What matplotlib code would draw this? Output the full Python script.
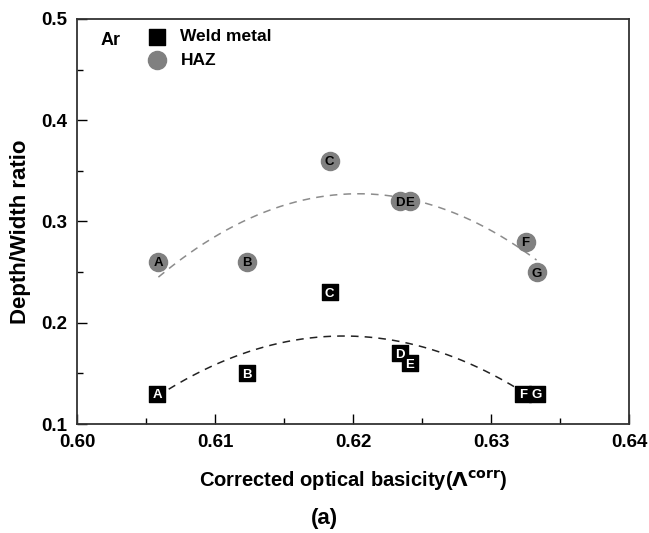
import matplotlib.pyplot as plt
import numpy as np

plt.rcParams['font.family'] = ['Liberation Sans', 'DejaVu Sans']
plt.rcParams['font.weight'] = 'bold'

labels = ["A", "B", "C", "D", "E", "F", "G"]

# weld metal
weld_x = [0.6058, 0.6123, 0.6183, 0.6234, 0.6241, 0.6323, 0.6333]
weld_y = [0.13, 0.15, 0.23, 0.17, 0.16, 0.13, 0.13]

# heat affected zone
haz_x = [0.6059, 0.6123, 0.6183, 0.6234, 0.6241, 0.6325, 0.6333]
haz_y = [0.26, 0.26, 0.36, 0.32, 0.32, 0.28, 0.25]

fig = plt.figure(figsize=(6.49, 5.33), dpi=100)
ax = fig.add_axes([0.1186, 0.2045, 0.8506, 0.7599])

# quadratic fits
for xs, ys, col in [(weld_x, weld_y, '#222222'), (haz_x, haz_y, '#8c8c8c')]:
    c = np.polyfit(xs, ys, 2)
    xx = np.linspace(min(xs), max(xs), 200)
    ax.plot(xx, np.polyval(c, xx), ls=(0, (5, 4)), color=col, lw=1.1, zorder=1)

ax.scatter(weld_x, weld_y, marker='s', s=125, color='black', zorder=3)
ax.scatter(haz_x, haz_y, marker='o', s=170, color='#808080', zorder=3)

t_style = dict(ha="center", va="center_baseline", fontsize=9.5, fontweight="bold", zorder=4)
for lab, x, y in zip(labels, weld_x, weld_y):
    ax.text(x, y, lab, color="white", **t_style)
for lab, x, y in zip(labels, haz_x, haz_y):
    ax.text(x, y, lab, color="black", **t_style)

ax.set_xlim(0.60, 0.64)
ax.set_ylim(0.1, 0.5)
ax.set_xticks([0.60, 0.61, 0.62, 0.63, 0.64])
ax.set_xticks(np.arange(0.605, 0.64, 0.01), minor=True)
ax.set_yticks([0.1, 0.2, 0.3, 0.4, 0.5])
ax.set_yticks([0.15, 0.25, 0.35, 0.45], minor=True)
ax.set_xticklabels(["0.60", "0.61", "0.62", "0.63", "0.64"])
ax.set_yticklabels(["0.1", "0.2", "0.3", "0.4", "0.5"])
ax.tick_params(which='major', direction='in', length=7, width=1, labelsize=13.5, pad=7)
ax.tick_params(which='minor', direction='in', length=4, width=1)
for s in ax.spines.values():
    s.set_linewidth(1.3)
    s.set_color('#333333')

ax.set_xlabel(r"Corrected optical basicity($\Lambda^{\mathrm{corr}}$)", fontsize=14.5,
              fontweight='bold', labelpad=13)
ax.set_ylabel("Depth/Width ratio", fontsize=16, fontweight='bold')
ax.yaxis.set_label_coords(-0.083, 0.474)

# legend drawn by hand to match the layout
ax.scatter([0.6058], [0.4825], marker='s', s=125, color='black', clip_on=False)
ax.scatter([0.6058], [0.459], marker='o', s=170, color='#808080', clip_on=False)
ax.text(0.6075, 0.4825, "Weld metal", fontsize=12.5, fontweight='bold', va='center')
ax.text(0.6075, 0.459, "HAZ", fontsize=12.5, fontweight='bold', va='center')
ax.text(0.6017, 0.479, "Ar", fontsize=13, fontweight='bold', va='center')

fig.text(0.5, 0.027, "(a)", ha='center', va='center', fontsize=16, fontweight='bold')

plt.savefig("out.png", dpi=100)
